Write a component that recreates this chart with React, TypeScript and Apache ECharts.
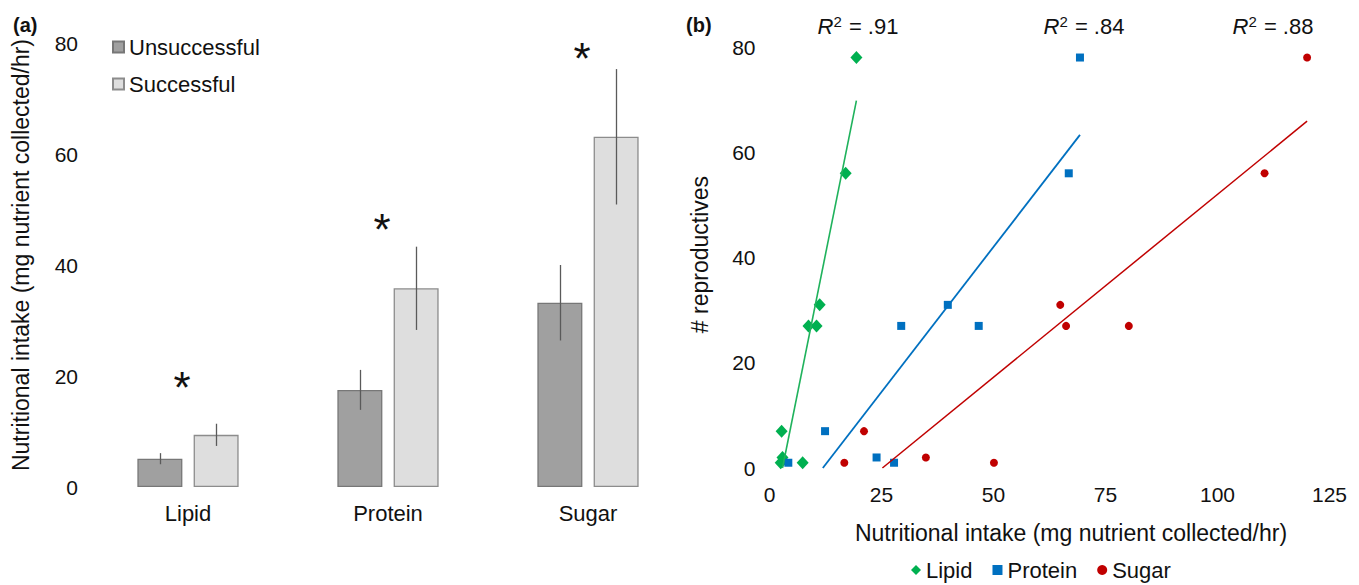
import React, { useEffect, useRef } from "react";
import * as echarts from "echarts";

// ---------- Panel (a) data ----------
const nutrients = ["Lipid", "Protein", "Sugar"];
const groupNames = ["Unsuccessful", "Successful"];
const unsuccessful = [5.1, 17.5, 33.2];
const unsuccessfulErr = [1.0, 3.6, 6.8];
const successful = [9.4, 35.8, 63.1];
const successfulErr = [2.0, 7.5, 12.2];
const sigMarkY = [19.3, 47.9, 78.7];

// ---------- Panel (b) data ----------
const lipidPoints = [
  [19.4, 78], [17.0, 56], [11.2, 31], [8.7, 27], [10.5, 27],
  [2.7, 7], [2.9, 2], [2.5, 1], [7.4, 1],
];
const proteinPoints = [
  [69.3, 78], [66.8, 56], [39.8, 31], [29.4, 27], [46.7, 27],
  [12.4, 7], [23.9, 2], [27.8, 1], [4.2, 1],
];
const sugarPoints = [
  [120.0, 78], [110.5, 56], [64.9, 31], [66.2, 27], [80.2, 27],
  [21.1, 7], [34.9, 2], [16.7, 1], [50.1, 1],
];
const lipidTrend = [[2.9, 0], [19.4, 69.8]];
const proteinTrend = [[11.9, 0], [69.3, 63.3]];
const sugarTrend = [[25.2, 0], [120.0, 65.9]];
const rSquared = [".91", ".84", ".88"];

const FONT = "'Liberation Sans', Arial, Helvetica, sans-serif";
const TXT = "#111111";
const GREEN = "#00b050";
const BLUE = "#0070c0";
const RED = "#c00000";

const BAR_W = 45;
const BAR_GAP = 0.25;
const ERR_OFFSET = (BAR_W * (1 + BAR_GAP)) / 2;

function errorSeries(values: number[], errs: number[], sign: number) {
  return {
    type: "custom",
    xAxisIndex: 0,
    yAxisIndex: 0,
    z: 5,
    silent: true,
    data: values.map((v, i) => [i, v - errs[i], v + errs[i]]),
    encode: { x: 0, y: [1, 2] },
    renderItem: (params: any, api: any) => {
      const lo = api.coord([api.value(0), api.value(1)]);
      const hi = api.coord([api.value(0), api.value(2)]);
      const x = Math.round(lo[0] + sign * ERR_OFFSET) + 0.5;
      return {
        type: "line",
        shape: { x1: x, y1: lo[1], x2: x, y2: hi[1] },
        style: { stroke: "#5a5a5a", lineWidth: 1.3 },
      };
    },
  };
}

export default function App() {
  const ref = useRef<HTMLDivElement>(null);

  useEffect(() => {
    if (!ref.current) return;
    const chart = echarts.init(ref.current, undefined, { renderer: "svg" });

    const option: any = {
      animation: false,
      backgroundColor: "#ffffff",
      textStyle: { fontFamily: FONT, color: TXT },
      grid: [
        { left: 88, top: 43, width: 600, height: 444 },
        { left: 769.5, top: 47, right: 29.5, height: 421 },
      ],
      legend: [
        {
          data: groupNames,
          orient: "vertical",
          left: 112,
          top: 36,
          padding: 0,
          itemWidth: 11,
          itemHeight: 11,
          itemGap: 15,
          icon: "rect",
          textStyle: { fontSize: 22, color: TXT, fontFamily: FONT },
        },
        {
          data: ["Lipid", "Protein", "Sugar"],
          orient: "horizontal",
          left: 911,
          top: 559,
          padding: 0,
          itemWidth: 10,
          itemHeight: 10,
          itemGap: 20,
          textStyle: { fontSize: 22, color: TXT, fontFamily: FONT },
        },
      ],
      xAxis: [
        {
          type: "category",
          gridIndex: 0,
          data: nutrients,
          axisLine: { show: false },
          axisTick: { show: false },
          axisLabel: { fontSize: 22, color: TXT, margin: 15, fontFamily: FONT },
          splitLine: { show: false },
        },
        {
          type: "value",
          gridIndex: 1,
          min: 0,
          max: 125,
          interval: 25,
          name: "Nutritional intake (mg nutrient collected/hr)",
          nameLocation: "middle",
          nameGap: 53,
          nameTextStyle: { fontSize: 23, color: TXT, fontFamily: FONT, padding: [0, 0, 0, 43] },
          axisLine: { show: false },
          axisTick: { show: false },
          axisLabel: { fontSize: 21, color: TXT, margin: 16, fontFamily: FONT },
          splitLine: { show: false },
        },
      ],
      yAxis: [
        {
          type: "value",
          gridIndex: 0,
          min: 0,
          max: 80,
          interval: 20,
          name: "Nutritional intake (mg nutrient collected/hr)",
          nameLocation: "middle",
          nameGap: 56,
          nameTextStyle: { fontSize: 23, color: TXT, fontFamily: FONT, padding: [0, 0, 0, 20] },
          axisLine: { show: false },
          axisTick: { show: false },
          axisLabel: { fontSize: 21, color: TXT, margin: 10, fontFamily: FONT },
          splitLine: { show: false },
        },
        {
          type: "value",
          gridIndex: 1,
          min: 0,
          max: 80,
          interval: 20,
          name: "# reproductives",
          nameLocation: "middle",
          nameGap: 58,
          nameTextStyle: { fontSize: 23, color: TXT, fontFamily: FONT, padding: [0, 0, 0, 6] },
          axisLine: { show: false },
          axisTick: { show: false },
          axisLabel: { fontSize: 21, color: TXT, margin: 14, fontFamily: FONT },
          splitLine: { show: false },
        },
      ],
      series: [
        {
          name: "Unsuccessful",
          type: "bar",
          xAxisIndex: 0,
          yAxisIndex: 0,
          data: unsuccessful,
          barWidth: BAR_W,
          barGap: "25%",
          itemStyle: { color: "#a0a0a0", borderColor: "#777777", borderWidth: 1.3 },
        },
        {
          name: "Successful",
          type: "bar",
          xAxisIndex: 0,
          yAxisIndex: 0,
          data: successful,
          barWidth: BAR_W,
          barGap: "25%",
          itemStyle: { color: "#dedede", borderColor: "#8c8c8c", borderWidth: 1.3 },
        },
        errorSeries(unsuccessful, unsuccessfulErr, -1),
        errorSeries(successful, successfulErr, 1),
        {
          type: "custom",
          xAxisIndex: 0,
          yAxisIndex: 0,
          z: 6,
          silent: true,
          data: sigMarkY.map((v, i) => [i, v]),
          encode: { x: 0, y: 1 },
          renderItem: (params: any, api: any) => {
            const p = api.coord([api.value(0), api.value(1)]);
            return {
              type: "text",
              x: p[0] - 6,
              y: p[1] + 8,
              style: {
                text: "*",
                fontSize: 44,
                fontFamily: FONT,
                fill: TXT,
                align: "center",
                verticalAlign: "middle",
              },
            };
          },
        },
        {
          name: "Lipid",
          type: "scatter",
          xAxisIndex: 1,
          yAxisIndex: 1,
          symbol: "diamond",
          symbolSize: [12, 13],
          data: lipidPoints,
          itemStyle: { color: GREEN, opacity: 1 },
        },
        {
          name: "Protein",
          type: "scatter",
          xAxisIndex: 1,
          yAxisIndex: 1,
          symbol: "rect",
          symbolSize: 8,
          data: proteinPoints,
          itemStyle: { color: BLUE, opacity: 1 },
        },
        {
          name: "Sugar",
          type: "scatter",
          xAxisIndex: 1,
          yAxisIndex: 1,
          symbol: "circle",
          symbolSize: 8,
          data: sugarPoints,
          itemStyle: { color: RED, opacity: 1 },
        },
        {
          name: "Lipid trend",
          type: "line",
          xAxisIndex: 1,
          yAxisIndex: 1,
          data: lipidTrend,
          symbol: "none",
          silent: true,
          lineStyle: { color: "#1fb25c", width: 1.6 },
        },
        {
          name: "Protein trend",
          type: "line",
          xAxisIndex: 1,
          yAxisIndex: 1,
          data: proteinTrend,
          symbol: "none",
          silent: true,
          lineStyle: { color: BLUE, width: 1.8 },
        },
        {
          name: "Sugar trend",
          type: "line",
          xAxisIndex: 1,
          yAxisIndex: 1,
          data: sugarTrend,
          symbol: "none",
          silent: true,
          lineStyle: { color: RED, width: 1.5 },
        },
      ],
      graphic: [
        {
          type: "text",
          left: 13,
          top: 15,
          style: { text: "(a)", fontSize: 20, fontWeight: "bold", fontFamily: FONT, fill: TXT },
        },
        {
          type: "text",
          left: 686,
          top: 15,
          style: { text: "(b)", fontSize: 20, fontWeight: "bold", fontFamily: FONT, fill: TXT },
        },
        ...[858, 1084, 1273].map((cx, i) => ({
          type: "text",
          x: cx,
          y: 26,
          style: {
            text: "{i|R}{s|2}{n| = " + rSquared[i] + "}",
            align: "center",
            verticalAlign: "middle",
            rich: {
              i: { fontSize: 22, fontStyle: "italic", fontFamily: FONT, fill: TXT, lineHeight: 24 },
              s: { fontSize: 15, fontFamily: FONT, fill: TXT, verticalAlign: "top", lineHeight: 24, padding: [0, 1, 8, 0] },
              n: { fontSize: 22, fontFamily: FONT, fill: TXT, lineHeight: 24 },
            },
          },
        })),
      ],
    };

    chart.setOption(option);
    return () => chart.dispose();
  }, []);

  return (
    <div
      ref={ref}
      style={{ position: "fixed", left: 0, top: 0, width: 1359, height: 585, background: "#fff" }}
    />
  );
}
